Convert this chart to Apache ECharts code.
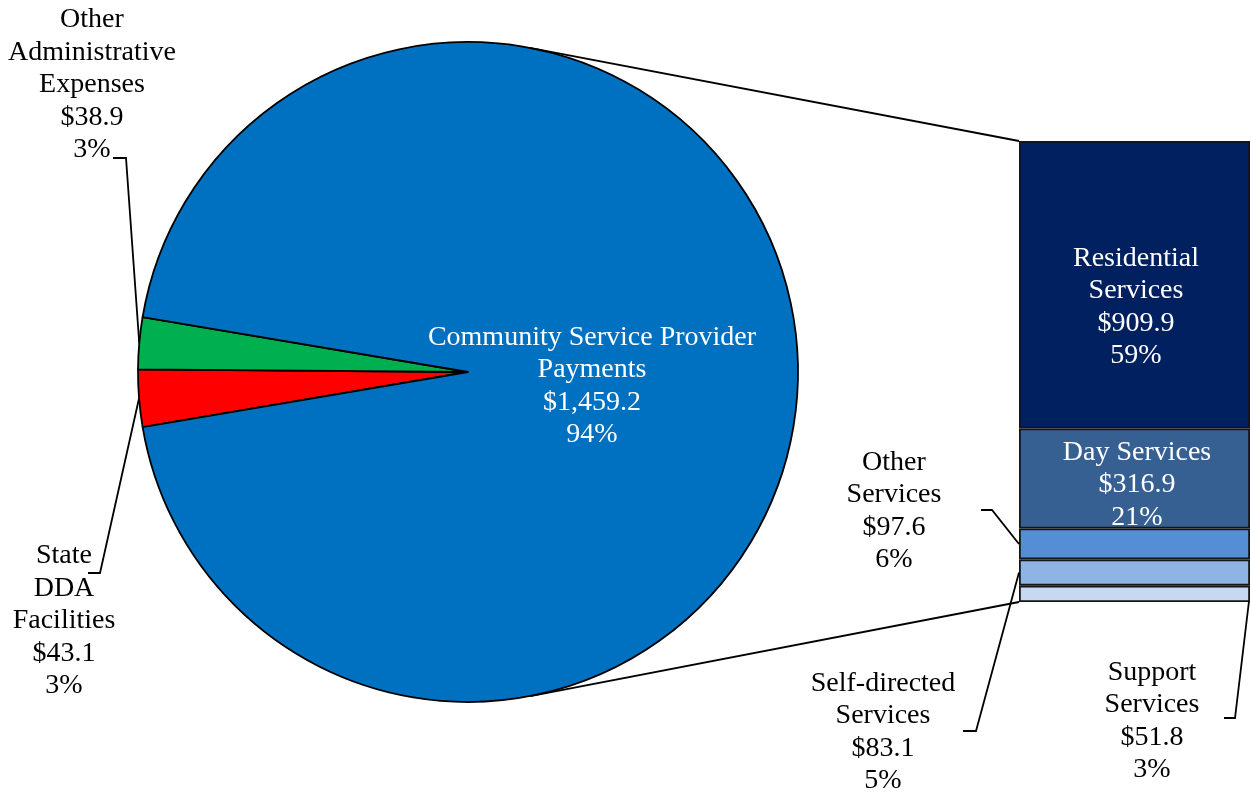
<!DOCTYPE html>
<html>
<head>
<meta charset="utf-8">
<script src="https://cdn.jsdelivr.net/npm/echarts@6/dist/echarts.min.js"></script>
<style>
  html, body { margin: 0; padding: 0; background: #ffffff; }
  #chart { width: 1251px; height: 794px; }
</style>
</head>
<body>
<div id="chart"></div>
<script>
// Spending breakdown ($ millions): primary pie, with the provider payments split out as a bar
const pieNames = ['State\nDDA\nFacilities', 'Other\nAdministrative\nExpenses', 'Community Service Provider\nPayments'];
const pieValues = [43.1, 38.9, 1459.2];
const piePercents = ['3%', '3%', '94%'];
const pieColors = ['#FF0000', '#00B050', '#0070C0'];

// Stacked from the bottom up
const barNames = ['Support\nServices', 'Self-directed\nServices', 'Other\nServices', 'Day Services', 'Residential\nServices'];
const barValues = [51.8, 83.1, 97.6, 316.9, 909.9];
const barPercents = ['3%', '5%', '6%', '21%', '59%'];
const barColors = ['#C6D9F1', '#8EB4E3', '#558ED5', '#376092', '#002060'];

// ---- layout ----
const FONT = '"Liberation Serif", "Times New Roman", serif';
const FONT_SIZE = 28;
const LINE_H = 32.5;
const PIE = { cx: 468, cy: 372, r: 330, startAngle: 189.6 };
const BAR = { left: 1019, top: 141, width: 231, height: 461 };
const LINE_W = 1.8;

// label centres and the elbow of each leader line (label end, then bend)
const pieLabelPos = [
  { x: 64, y: 621, elbow: [[88, 573], [100, 573]] },
  { x: 92, y: 85, elbow: [[113, 158], [126, 158]] },
  { x: 592, y: 386 }
];
const barLabelPos = [
  { x: 1152, y: 721, elbow: [[1224, 718], [1235, 718]], attach: 'rightBottom' },
  { x: 883, y: 732, elbow: [[963, 731], [976, 731]], attach: 'left' },
  { x: 894, y: 511, elbow: [[981, 510], [992, 510]], attach: 'left' },
  { x: 1137, y: 485 },
  { x: 1136, y: 307 }
];

const money = v => '$' + v.toLocaleString('en-US', { minimumFractionDigits: 1, maximumFractionDigits: 1 });
const pieTotal = pieValues.reduce((a, b) => a + b, 0);
const barTotal = barValues.reduce((a, b) => a + b, 0);

// point on the pie rim at the middle of slice i
function sliceMidPoint(i) {
  let before = 0;
  for (let k = 0; k < i; k++) before += pieValues[k];
  const mid = PIE.startAngle - (before + pieValues[i] / 2) / pieTotal * 360;
  const a = mid * Math.PI / 180;
  return [PIE.cx + PIE.r * Math.cos(a), PIE.cy - PIE.r * Math.sin(a)];
}

const textBase = {
  fontFamily: FONT,
  fontSize: FONT_SIZE,
  lineHeight: LINE_H,
  align: 'center'
};
const leaderStyle = { color: '#000000', width: LINE_W };

const chart = echarts.init(document.getElementById('chart'), null, { renderer: 'canvas' });

const barSeries = barValues.map((v, i) => {
  const pos = barLabelPos[i];
  const inside = !pos.elbow;
  return {
    type: 'bar',
    name: barNames[i],
    stack: 'providers',
    barWidth: '100%',
    silent: true,
    data: [v],
    itemStyle: { color: barColors[i], borderColor: '#151515', borderWidth: 1.8 },
    label: Object.assign({}, textBase, {
      show: true,
      position: 'inside',
      color: inside ? '#ffffff' : '#000000',
      formatter: () => barNames[i] + '\n' + money(v) + '\n' + barPercents[i]
    }),
    labelLayout: () => ({ x: pos.x, y: pos.y, align: 'center', verticalAlign: 'middle' })
  };
});

const option = {
  animation: false,
  backgroundColor: '#ffffff',
  grid: { left: BAR.left, top: BAR.top, width: BAR.width, height: BAR.height },
  xAxis: { type: 'category', data: [''], show: false },
  yAxis: { type: 'value', min: 0, max: barTotal, show: false },
  series: [
    {
      type: 'pie',
      center: [PIE.cx, PIE.cy],
      radius: PIE.r,
      startAngle: PIE.startAngle,
      clockwise: true,
      silent: true,
      avoidLabelOverlap: false,
      itemStyle: { borderColor: '#000000', borderWidth: 1.8 },
      label: Object.assign({}, textBase, {
        show: true,
        color: '#000000',
        position: 'outside',
        formatter: p => pieNames[p.dataIndex] + '\n' + money(p.value) + '\n' + piePercents[p.dataIndex]
      }),
      labelLine: { show: true, lineStyle: leaderStyle },
      data: pieValues.map((v, i) => ({
        name: pieNames[i],
        value: v,
        itemStyle: { color: pieColors[i] },
        label: i === 2 ? { position: 'inside', color: '#ffffff' } : {},
        labelLine: i === 2 ? { show: false } : {}
      })),
      labelLayout: p => {
        const pos = pieLabelPos[p.dataIndex];
        const out = { x: pos.x, y: pos.y, align: 'center', verticalAlign: 'middle' };
        if (pos.elbow) {
          out.labelLinePoints = [sliceMidPoint(p.dataIndex), pos.elbow[1], pos.elbow[0]];
        }
        return out;
      }
    }
  ].concat(barSeries)
};

chart.setOption(option);

// Connector lines: tangent from each left corner of the bar to the pie rim
function tangentPoint(px, py, upper) {
  const dx = px - PIE.cx, dy = PIE.cy - py;
  const d = Math.sqrt(dx * dx + dy * dy);
  const base = Math.atan2(dy, dx);
  const off = Math.acos(PIE.r / d);
  const a = upper ? base + off : base - off;
  return [PIE.cx + PIE.r * Math.cos(a), PIE.cy - PIE.r * Math.sin(a)];
}
const yPx = v => chart.convertToPixel({ yAxisIndex: 0 }, v);
const barTopY = yPx(barTotal);
const barBottomY = yPx(0);
const barRight = BAR.left + BAR.width;
const tTop = tangentPoint(BAR.left, barTopY, true);
const tBottom = tangentPoint(BAR.left, barBottomY, false);

const lineStyle = { stroke: '#000000', lineWidth: LINE_W, fill: null };
const graphics = [
  { type: 'line', z: 10, shape: { x1: tTop[0], y1: tTop[1], x2: BAR.left, y2: barTopY }, style: lineStyle },
  { type: 'line', z: 10, shape: { x1: tBottom[0], y1: tBottom[1], x2: BAR.left, y2: barBottomY }, style: lineStyle }
];

// Leader lines from the outside bar labels to their segments
let cum = 0;
barValues.forEach((v, i) => {
  const pos = barLabelPos[i];
  const y0 = yPx(cum), y1 = yPx(cum + v);
  cum += v;
  if (!pos.elbow) return;
  const host = pos.attach === 'left'
    ? [BAR.left, (y0 + y1) / 2]
    : [barRight - 1, y0 - 1];
  graphics.push({
    type: 'polyline', z: 10,
    shape: { points: [host, pos.elbow[1], pos.elbow[0]] },
    style: lineStyle
  });
});

chart.setOption({ graphic: graphics });
</script>
</body>
</html>
